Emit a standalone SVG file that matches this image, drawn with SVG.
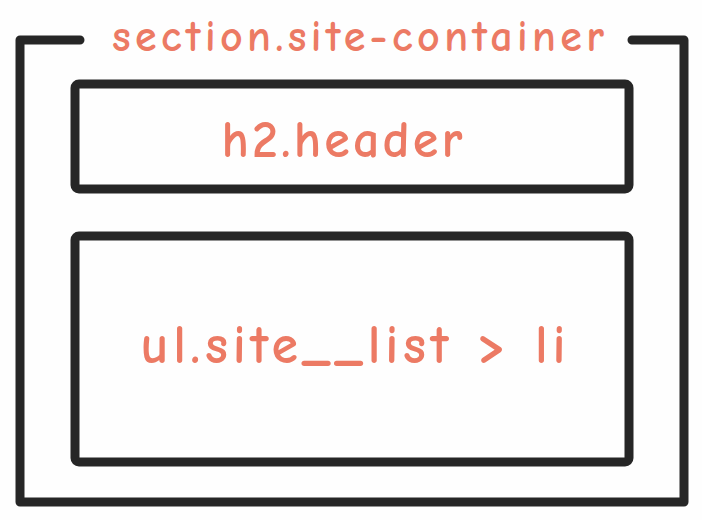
<svg xmlns="http://www.w3.org/2000/svg" width="702" height="520" viewBox="0 0 702 520">
<style>
.frame{fill:none;stroke:#262626;stroke-width:9;stroke-linecap:round;stroke-linejoin:round}
.lbl{fill:#EC7A64;font-family:"Comic Neue","Liberation Sans",sans-serif;font-weight:bold;text-anchor:middle}
</style>
<rect width="702" height="520" fill="#FEFEFE"/>
<g id="site-container">
<path class="frame" d="M80 40 H20 V502 H684 V40 H632"/>
<text class="lbl" x="358" y="51" font-size="44" textLength="492" lengthAdjust="spacing">section.site-container</text>
</g>
<g id="header">
<rect class="frame" x="75" y="84" width="554" height="105" rx="4"/>
<text class="lbl" x="342" y="157" font-size="52" textLength="241" lengthAdjust="spacing">h2.header</text>
</g>
<g id="site-list">
<rect class="frame" x="75" y="236" width="554" height="226" rx="4"/>
<text class="lbl" x="353" y="363" font-size="54" textLength="425" lengthAdjust="spacing">ul.site__list &gt; li</text>
</g>
</svg>
